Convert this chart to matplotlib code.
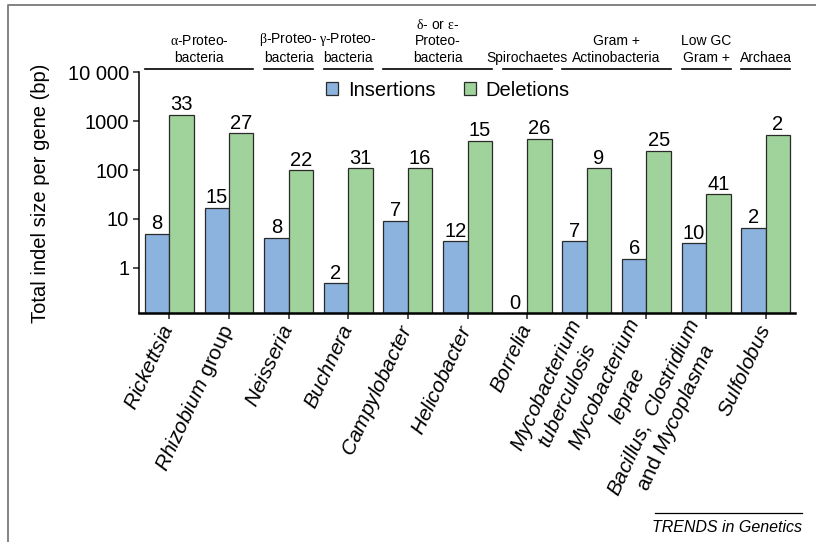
import numpy as np
import matplotlib.pyplot as plt
from matplotlib.lines import Line2D
from matplotlib.ticker import FixedLocator, NullLocator
import matplotlib.transforms as mtransforms

plt.rcParams['font.family'] = ['Liberation Sans', 'DejaVu Sans']
plt.rcParams['mathtext.fontset'] = 'custom'
plt.rcParams['mathtext.rm'] = 'Liberation Sans'
plt.rcParams['mathtext.it'] = 'Liberation Sans:italic'
# serif Greek letters in the group headers
plt.rcParams['mathtext.cal'] = 'Liberation Serif'

# genera on the x axis (genus names italic)
genera = [
    r"$\mathit{Rickettsia}$",
    r"$\mathit{Rhizobium}$ group",
    r"$\mathit{Neisseria}$",
    r"$\mathit{Buchnera}$",
    r"$\mathit{Campylobacter}$",
    r"$\mathit{Helicobacter}$",
    r"$\mathit{Borrelia}$",
    r"$\mathit{Mycobacterium}$" + "\n" + r"$\mathit{tuberculosis}$",
    r"$\mathit{Mycobacterium}$" + "\n" + r"$\mathit{leprae}$",
    r"$\mathit{Bacillus,\ Clostridium}$" + "\n" + r"and $\mathit{Mycoplasma}$",
    r"$\mathit{Sulfolobus}$",
]

# total indel size per gene (bp)
insertions = [4.96, 16.9, 4.1, 0.48, 9.1, 3.47, 0.0, 3.47, 1.53, 3.16, 6.5]
deletions = [1345, 568, 99.5, 109, 109, 395, 435, 109, 247, 32, 533]

# number of events behind each bar
n_ins = [8, 15, 8, 2, 7, 12, 0, 7, 6, 10, 2]
n_del = [33, 27, 22, 31, 16, 15, 26, 9, 25, 41, 2]

# taxonomic groups and the genera (first, last index) they cover
groups = [r"$\mathcal{α}$-Proteo-" + "\nbacteria",
          r"$\mathcal{β}$-Proteo-" + "\nbacteria",
          r"$\mathcal{γ}$-Proteo-" + "\nbacteria",
          r"$\mathcal{δ}$- or $\mathcal{ε}$-" + "\nProteo-\nbacteria",
          "Spirochaetes", "Gram +\nActinobacteria", "Low GC\nGram +", "Archaea"]
group_span = [(0, 1), (2, 2), (3, 3), (4, 5), (6, 6), (7, 8), (9, 9), (10, 10)]

yticks = [1, 10, 100, 1000, 10000]
ytick_labels = ["1", "10", "100", "1000", "10 000"]

blue = "#8cb3de"
green = "#a0d39b"
edge = "#2a2a2a"
fs = 14.5
ymin = 0.117

fig = plt.figure(figsize=(8.16, 5.42), dpi=100)
ax = fig.add_axes([0.1703, 0.4220, 0.8039, 0.4443])

x = np.arange(len(genera))
w = 0.41
ins = np.array(insertions)
shown = ins > 0
ax.bar(x[shown] - w / 2, ins[shown], w, color=blue, edgecolor=edge, linewidth=0.9,
       label="Insertions")
ax.bar(x + w / 2, deletions, w, color=green, edgecolor=edge, linewidth=0.9,
       label="Deletions")

ax.set_yscale("log")
ax.set_ylim(ymin, 10000)
ax.set_xlim(-0.51, len(genera) - 0.51)

# event counts above bars
for i in range(len(genera)):
    ax.annotate(str(n_ins[i]), (x[i] - w / 2, max(insertions[i], ymin)), xytext=(0, 0.5),
                textcoords="offset points", ha="center", va="bottom", fontsize=fs)
    ax.annotate(str(n_del[i]), (x[i] + w / 2, deletions[i]), xytext=(0, 0.5),
                textcoords="offset points", ha="center", va="bottom", fontsize=fs)

ax.yaxis.set_major_locator(FixedLocator(yticks))
ax.yaxis.set_minor_locator(NullLocator())
ax.set_yticklabels(ytick_labels, fontsize=fs)
ax.set_xticks(x)
ax.set_xticklabels(genera, fontsize=15, rotation=65, ha="right", va="center",
                   rotation_mode="anchor", multialignment="center")
ax.tick_params(axis="both", direction="out", length=4, width=1.1, color="#222222")
ax.tick_params(axis="x", pad=5)
ax.tick_params(axis="y", pad=3)

for s in ("top", "right"):
    ax.spines[s].set_visible(False)
ax.spines["left"].set_linewidth(1.1)
ax.spines["bottom"].set_linewidth(1.8)

ax.set_ylabel("Total indel size per gene (bp)", fontsize=fs)
ax.yaxis.set_label_coords(-0.136, 0.5)

ax.legend(loc="center", bbox_to_anchor=(0.471, 0.927), ncol=2, frameon=False,
          fontsize=fs, handlelength=0.6, handleheight=0.6, handletextpad=0.5,
          columnspacing=1.4, borderpad=0)

# group headers with rules
trans = mtransforms.blended_transform_factory(ax.transData, ax.transAxes)
for name, (a, b) in zip(groups, group_span):
    x0 = a - w
    x1 = b + w
    ax.add_line(Line2D([x0, x1], [1.0133, 1.0133], transform=trans, color="black",
                       linewidth=1.2, clip_on=False))
    ax.text((x0 + x1) / 2, 1.031, name, transform=trans, ha="center", va="bottom",
            multialignment="center", fontsize=10, linespacing=1.25)

# journal credit
fig.add_artist(Line2D([655 / 816, 802 / 816], [1 - 513 / 542, 1 - 513 / 542],
                      color="black", linewidth=0.9))
fig.text(802 / 816, 1 - 532 / 542, "TRENDS in Genetics", ha="right", va="baseline",
         fontsize=11.5, style="italic")

# outer frame
fig.add_artist(Line2D([8 / 816, 8 / 816, 1], [0, 1 - 5 / 542, 1 - 5 / 542],
                      color="#7a7a7a", linewidth=1.3))

fig.savefig("out.png", dpi=100)
